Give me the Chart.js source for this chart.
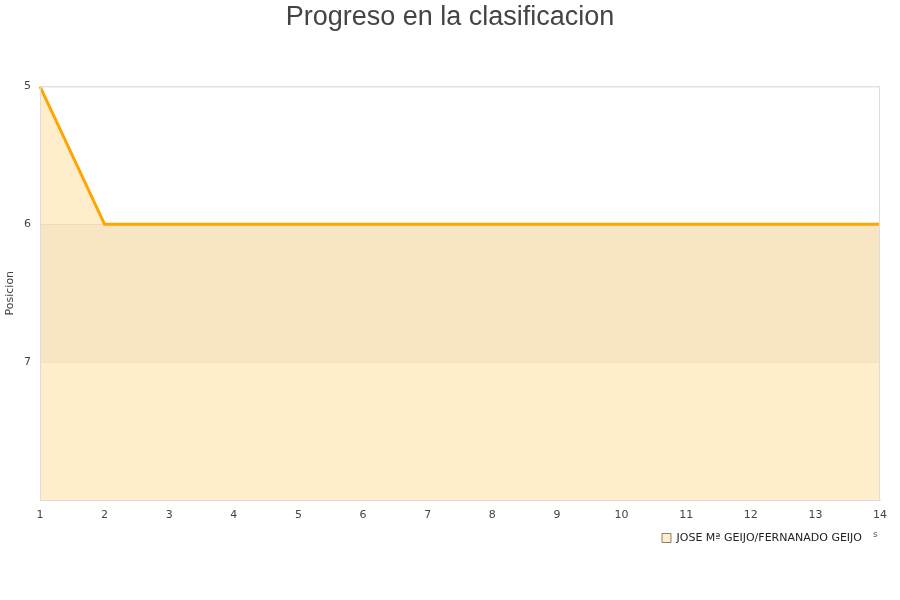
<!DOCTYPE html>
<html>
<head>
<meta charset="utf-8">
<script src="https://cdn.jsdelivr.net/npm/chart.js@4/dist/chart.umd.min.js"></script>
<style>
  html, body { margin: 0; padding: 0; background: #fff; }
  #wrap { width: 900px; height: 600px; }
</style>
</head>
<body>
<div id="wrap"><canvas id="grafico"></canvas></div>
<script>
// datos
const jornadas = ['1', '2', '3', '4', '5', '6', '7', '8', '9', '10', '11', '12', '13', '14'];
const posiciones = [5, 6, 6, 6, 6, 6, 6, 6, 6, 6, 6, 6, 6, 6];
const pareja = 'JOSE Mª GEIJO/FERNANADO GEIJO';
const tituloEjeY = 'Posicion';
const bandaDesde = 6;
const bandaHasta = 7;

// franja entre 6 y 7, marco del area y titulo del eje Y
const extras = {
    id: 'extras',
    beforeDatasetsDraw(chart) {
        const ctx = chart.ctx, a = chart.chartArea, y = chart.scales.y;
        const y1 = y.getPixelForValue(bandaDesde), y2 = y.getPixelForValue(bandaHasta);
        ctx.save();
        ctx.fillStyle = 'rgba(0,0,0,0.04)';
        ctx.fillRect(a.left, Math.min(y1, y2), a.right - a.left, Math.abs(y2 - y1));
        ctx.restore();
    },
    afterDraw(chart) {
        const ctx = chart.ctx, a = chart.chartArea;
        ctx.save();
        ctx.strokeStyle = '#dddddd';
        ctx.lineWidth = 1;
        ctx.strokeRect(a.left + 0.5, a.top + 0.5, a.right - a.left - 1, a.bottom - a.top);
        // titulo eje Y
        ctx.translate(10, (a.top + a.bottom) / 2);
        ctx.rotate(-Math.PI / 2);
        ctx.fillStyle = '#444';
        ctx.font = '11px "DejaVu Sans"';
        ctx.textAlign = 'center';
        ctx.textBaseline = 'middle';
        ctx.fillText(tituloEjeY, 0, 0);
        ctx.restore();
        ctx.save();
        ctx.fillStyle = '#555';
        ctx.font = '9px "DejaVu Sans"';
        ctx.fillText('s', 873, 535);
        ctx.restore();
    }
};

let ctx = document.getElementById('grafico').getContext('2d')
new Chart(ctx, {
    type: 'line',
    data: {
        labels: jornadas,
        datasets: [{
            label: pareja,
            data: posiciones,
            borderColor: '#ffa500',
            backgroundColor: 'rgba(255,165,0,0.2)',
            borderWidth: 3,
            pointRadius: 0,
            tension: 0,
            fill: 'start'
        }]
    },
    options: {
        responsive: true,
        maintainAspectRatio: false,
        animation: false,
        layout: { padding: { left: 0, right: 0, top: 0, bottom: 46.5 } },
        plugins: {
            title: {
                display: true,
                text: 'Progreso en la clasificacion',
                color: '#444',
                font: { family: '"Liberation Sans", Arial', size: 27, weight: 'normal' },
                padding: { top: 1, bottom: 53 }
            },
            legend: {
                position: 'bottom',
                align: 'end',
                fullSize: false,
                labels: {
                    boxWidth: 9,
                    boxHeight: 9,
                    color: '#222',
                    font: { family: '"DejaVu Sans"', size: 11 },
                    padding: 18,
                    generateLabels(chart) {
                        const ds = chart.data.datasets[0];
                        return [{
                            text: ds.label,
                            fillStyle: '#ffedcd',
                            strokeStyle: '#8a8070',
                            lineWidth: 1,
                            fontColor: '#222',
                            datasetIndex: 0,
                            hidden: false
                        }];
                    }
                }
            },
            tooltip: { enabled: false }
        },
        scales: {
            x: {
                grid: { display: false, drawTicks: false },
                border: { color: '#dddddd' },
                ticks: {
                    color: '#444',
                    font: { family: '"DejaVu Sans"', size: 11 },
                    maxRotation: 0,
                    mirror: true,
                    padding: -22
                },
                afterFit(s) {
                    s.height = 14.5;
                    s.paddingLeft = 0;
                    s.paddingRight = 0;
                }
            },
            y: {
                reverse: true,
                min: 5,
                max: 8,
                grid: { color: 'rgba(0,0,0,0.07)', drawTicks: false },
                border: { color: '#dddddd' },
                ticks: {
                    stepSize: 1,
                    color: '#444',
                    font: { family: '"DejaVu Sans"', size: 11 },
                    padding: 9,
                    callback: (v) => (v === 8 ? '' : v)
                },
                afterFit(s) { s.width = 40; }
            },
            derecha: {
                position: 'right',
                display: true,
                grid: { display: false },
                border: { display: false },
                ticks: { display: false },
                afterFit(s) { s.width = 20; }
            }
        }
    },
    plugins: [extras]
})
</script>
</body>
</html>
